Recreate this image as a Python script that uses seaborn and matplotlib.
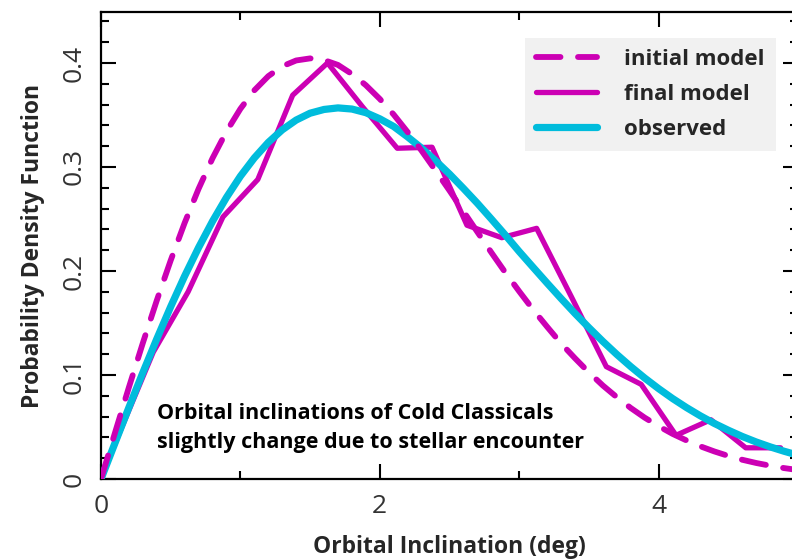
import numpy as np
import pandas as pd
import matplotlib
matplotlib.use("Agg")
import matplotlib.pyplot as plt
from matplotlib.ticker import MultipleLocator
import seaborn as sns

# ---- data ----
obs_x = [round(0.1 * i, 1) for i in range(51)]
obs_y = [0.0, 0.0345, 0.0687, 0.1022, 0.1346, 0.1657, 0.1951, 0.2225, 0.2478, 0.2707,
         0.2911, 0.3087, 0.3236, 0.3357, 0.3451, 0.3517, 0.3553, 0.3568, 0.3557, 0.3522,
         0.3463, 0.3389, 0.3289, 0.3181, 0.3060, 0.2932, 0.2794, 0.2651, 0.2500, 0.2346,
         0.2187, 0.2035, 0.1884, 0.1736, 0.1592, 0.1455, 0.1323, 0.1198, 0.1081, 0.0971,
         0.0869, 0.0774, 0.0687, 0.0607, 0.0534, 0.0469, 0.0409, 0.0356, 0.0309, 0.0267,
         0.0229]

init_x = obs_x
init_y = [0.0, 0.0443, 0.0881, 0.1307, 0.1716, 0.2102, 0.2462, 0.2790, 0.3084, 0.3341,
          0.3559, 0.3737, 0.3873, 0.3968, 0.4024, 0.4044, 0.4028, 0.3981, 0.3894, 0.3786,
          0.3654, 0.3503, 0.3335, 0.3156, 0.2966, 0.2773, 0.2573, 0.2375, 0.2178, 0.1986,
          0.1804, 0.1628, 0.1464, 0.1304, 0.1161, 0.1025, 0.0899, 0.0787, 0.0683, 0.0590,
          0.0508, 0.0434, 0.0371, 0.0314, 0.0265, 0.0222, 0.0185, 0.0154, 0.0128, 0.0105,
          0.0086]

final_x = [0.0, 0.125, 0.375, 0.625, 0.875, 1.125, 1.375, 1.625, 1.875, 2.125, 2.375,
           2.625, 2.875, 3.125, 3.375, 3.625, 3.875, 4.125, 4.375, 4.625, 4.875]
final_y = [0.0, 0.042, 0.122, 0.180, 0.252, 0.288, 0.369, 0.400, 0.358, 0.318, 0.319,
           0.244, 0.232, 0.241, 0.175, 0.108, 0.091, 0.042, 0.057, 0.030, 0.030]

labels = ["initial model", "final model", "observed"]
x_label = "Orbital Inclination (deg)"
y_label = "Probability Density Function"
note = "Orbital inclinations of Cold Classicals\nslightly change due to stellar encounter"

MAG = "#CC00B4"
CYAN = "#00BCDC"

sns.set_theme(style="white")
plt.rcParams["font.family"] = ["Open Sans", "DejaVu Sans"]

fig = plt.figure(figsize=(7.92, 5.6), dpi=100)
ax = fig.add_axes([101 / 792, 81 / 560, 697 / 792, 467 / 560])

df_final = pd.DataFrame({"x": final_x, "y": final_y})
df_obs = pd.DataFrame({"x": obs_x, "y": obs_y})
df_init = pd.DataFrame({"x": init_x, "y": init_y})

sns.lineplot(data=df_final, x="x", y="y", ax=ax, color=MAG, lw=3.8,
             sort=False, estimator=None, label=labels[1], zorder=2)
sns.lineplot(data=df_obs, x="x", y="y", ax=ax, color=CYAN, lw=5.2,
             sort=False, estimator=None, label=labels[2], zorder=3)
sns.lineplot(data=df_init, x="x", y="y", ax=ax, color=MAG, lw=4.2,
             sort=False, estimator=None, label=labels[0], zorder=4,
             dashes=False)
ax.lines[-1].set_dashes([4.2, 3.0])
ax.lines[-1].set_dash_capstyle("round")

ax.set_xlim(0, 5)
ax.set_ylim(0, 0.449)

ax.xaxis.set_major_locator(MultipleLocator(2))
ax.xaxis.set_minor_locator(MultipleLocator(1))
ax.yaxis.set_major_locator(MultipleLocator(0.1))
ax.yaxis.set_minor_locator(MultipleLocator(0.02))

ax.tick_params(which="both", direction="in", top=True, right=True,
               bottom=True, left=True, color="black", width=1.5)
ax.tick_params(which="major", length=11)
ax.tick_params(which="minor", length=6)
ax.tick_params(axis="x", which="major", pad=11, labelsize=19, labelcolor="#333333")
ax.tick_params(axis="y", which="major", pad=10, labelsize=19, labelcolor="#333333")

ax.set_xticks([0, 2, 4])
ax.set_xticklabels(["0", "2", "4"])
ax.set_yticks([0, 0.1, 0.2, 0.3, 0.4])
ax.set_yticklabels(["0", "0.1", "0.2", "0.3", "0.4"], rotation=90, va="center")

for s in ax.spines.values():
    s.set_color("black")
    s.set_linewidth(1.6)

ax.set_xlabel(x_label, fontsize=16.5, fontweight="bold", labelpad=11)
ax.set_ylabel(y_label, fontsize=16.5, fontweight="bold", labelpad=12)

ax.text(56 / 697, (479 - 428) / 467, note, transform=ax.transAxes, fontsize=15.5,
        fontweight="bold", color="black", va="center", ha="left",
        linespacing=1.45)

handles, lbls = ax.get_legend_handles_labels()
order = [lbls.index(l) for l in labels]
leg = ax.legend([handles[i] for i in order], [lbls[i] for i in order],
                loc="upper right", bbox_to_anchor=(0.968, 0.944),
                frameon=True, fancybox=False, facecolor="#EEEEEE",
                edgecolor="#EEEEEE", handlelength=2.75,
                handletextpad=1.2, labelspacing=0.62, borderpad=0.5,
                borderaxespad=0.0,
                prop={"weight": "bold", "size": 16})
leg.get_frame().set_linewidth(0)

fig.savefig("out.png", dpi=100)
